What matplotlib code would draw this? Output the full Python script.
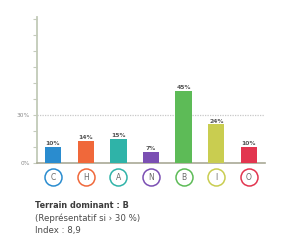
import matplotlib
matplotlib.use("Agg")
import matplotlib.pyplot as plt

# chart data
letters = ["C", "H", "A", "N", "B", "I", "O"]
values = [10, 14, 15, 7, 45, 24, 10]
colors = ["#2a8ccf", "#f0683a", "#2fb3a8", "#7b4fb3", "#5dbb57", "#c9cd50", "#e2354f"]
yticks = [0, 10, 20, 30, 40, 50, 60, 70, 80, 90]
ylabels = {0: "0%", 30: "30%"}
threshold = 30

fig = plt.figure(figsize=(3.0, 2.44), dpi=100)
ax = fig.add_axes([37 / 300, 1 - 163 / 244, 228 / 300, 146 / 244])

x = list(range(len(letters)))
ax.bar(x, values, width=0.5, color=colors, zorder=3)
for xi, v in zip(x, values):
    ax.text(xi, v + 0.5, f"{v}%", ha="center", va="bottom", fontsize=4.3,
            color="#555555", fontweight="bold")

ax.axhline(threshold, color="#c8c8c8", lw=0.9, ls=(0, (1, 1)), zorder=1)

ax.set_xlim(-0.49, len(letters) - 1 + 0.49)
ax.set_ylim(0, 91)
ax.set_yticks(yticks)
ax.set_yticklabels([ylabels.get(t, "") for t in yticks])
ax.tick_params(axis="y", length=3, width=0.8, color="#c5cbbd", labelsize=4.2,
               labelcolor="#8a8a8a", pad=2)
ax.set_xticks([])

for s in ["top", "right"]:
    ax.spines[s].set_visible(False)
ax.spines["left"].set_color("#c2cab8")
ax.spines["left"].set_linewidth(1.3)
ax.spines["bottom"].set_color("#a9a996")
ax.spines["bottom"].set_linewidth(1.2)

# circled letters under the bars
trans = ax.get_xaxis_transform()
for xi, lt, c in zip(x, letters, colors):
    ax.scatter([xi], [-0.097], s=150, facecolor="white", edgecolor=c,
               linewidth=1.1, transform=trans, clip_on=False, zorder=4)
    ax.text(xi, -0.097, lt, transform=trans, ha="center", va="center",
            fontsize=5.5, color="#6a6a6a", zorder=5)

fig.text(35 / 300, 1 - 205 / 244, "Terrain dominant : B", fontsize=5.9,
         fontweight="bold", color="#3c3c3c", va="center")
fig.text(35 / 300, 1 - 218 / 244, "(Représentatif si › 30 %)", fontsize=6.2,
         color="#4a4a4a", va="center")
fig.text(35 / 300, 1 - 231 / 244, "Index : 8,9", fontsize=6.2,
         color="#4a4a4a", va="center")

fig.savefig("out.png", dpi=100)
